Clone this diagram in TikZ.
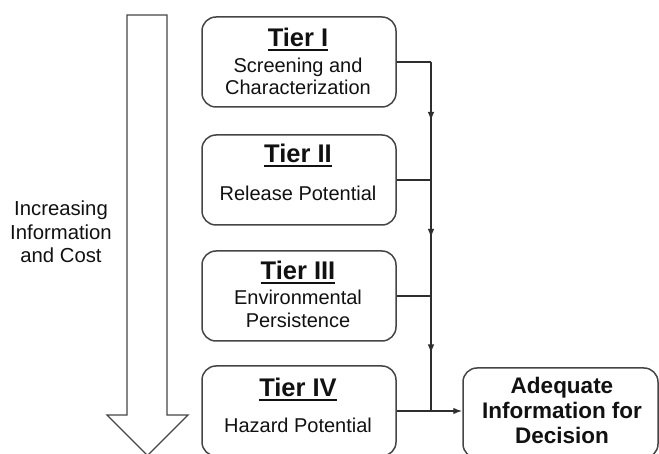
\documentclass[tikz,border=0pt]{standalone}
\usepackage{fontspec}
\setmainfont{Liberation Sans}
\usetikzlibrary{arrows.meta,decorations.markings}
\newcommand\tierul[1]{\setbox0\hbox{#1}\rlap{\rule[-3.8pt]{\wd0}{2pt}}\box0}
\definecolor{edge}{HTML}{454545}
\definecolor{wire}{HTML}{2E2E2E}
\definecolor{ink}{HTML}{111111}
\begin{document}
\begin{tikzpicture}[x=1pt,y=-1pt,
  tierbox/.style={draw=edge,line width=1.5pt,rounded corners=14pt,minimum width=194pt,minimum height=90pt,inner sep=0pt},
  titletext/.style={anchor=base,inner sep=0pt,text=ink,font=\fontsize{25.5}{30}\selectfont\bfseries},
  bodytext/.style={anchor=base,inner sep=0pt,text=ink,font=\fontsize{20}{24}\selectfont},
  sidetext/.style={anchor=base,inner sep=0pt,text=ink,font=\fontsize{20.3}{24}\selectfont},
  adtext/.style={anchor=base,inner sep=0pt,text=ink,font=\fontsize{22.5}{26}\selectfont\bfseries},
  conn/.style={draw=wire,line width=1.4pt},
  midarrow/.style={decoration={markings,mark=at position 0.5 with {\arrow{Latex[length=9pt,width=6.5pt]}}},postaction={decorate}},
  bigarrow/.style={draw=edge,line width=1.3pt,fill=white,line join=miter}
]
\useasboundingbox (0,0) rectangle (659,454);

% big hollow arrow
\draw[bigarrow] (127,15) -- (167,15) -- (167,415) -- (188,415) -- (147.5,455.5) -- (107,415) -- (127,415) -- cycle;

% side label
\node[sidetext] (s1) at (61,216) {Increasing};
\node[sidetext] (s2) at (61,240) {Information};
\node[sidetext] (s3) at (61,263) {and Cost};

% tier boxes
\node[tierbox] (t1) at (299,62) {};
\node[tierbox] (t2) at (299,180) {};
\node[tierbox] (t3) at (299,296) {};
\node[tierbox] (t4) at (299,411) {};

\node[titletext] (t1t) at (298,47) {\tierul{Tier I}};
\node[bodytext] (t1a) at (298,73) {Screening and};
\node[bodytext] (t1b) at (298,95) {Characterization};

\node[titletext] (t2t) at (298,163) {\tierul{Tier II}};
\node[bodytext] (t2a) at (298,201) {Release Potential};

\node[titletext] (t3t) at (298,280) {\tierul{Tier III}};
\node[bodytext] (t3a) at (298,305) {Environmental};
\node[bodytext] (t3b) at (298,328) {Persistence};

\node[titletext] (t4t) at (298,397) {\tierul{Tier IV}};
\node[bodytext] (t4a) at (298,432) {Hazard Potential};

% decision box
\node[tierbox,minimum width=195pt] (ad) at (560.5,413) {};
\node[adtext] (ada) at (562,393) {Adequate};
\node[adtext] (adb) at (562,418) {Information for};
\node[adtext] (adc) at (562,443) {Decision};

% bus
\coordinate (bus) at (431,0);
\coordinate (j1) at (t1.east -| bus);
\coordinate (j2) at (t2.east -| bus);
\coordinate (j3) at (t3.east -| bus);
\coordinate (j4) at (t4.east -| bus);

\draw[conn] (t1.east) -- (j1);
\draw[conn,midarrow] (j1) -- (j2);
\draw[conn] (t2.east) -- (j2);
\draw[conn,midarrow] (j2) -- (j3);
\draw[conn] (t3.east) -- (j3);
\draw[conn,midarrow] (j3) -- (j4);
\draw[conn] (t4.east) -- (j4);
\draw[conn,-{Latex[length=9pt,width=6.5pt]}] (j4) -- (ad.west |- j4);
\end{tikzpicture}
\end{document}
